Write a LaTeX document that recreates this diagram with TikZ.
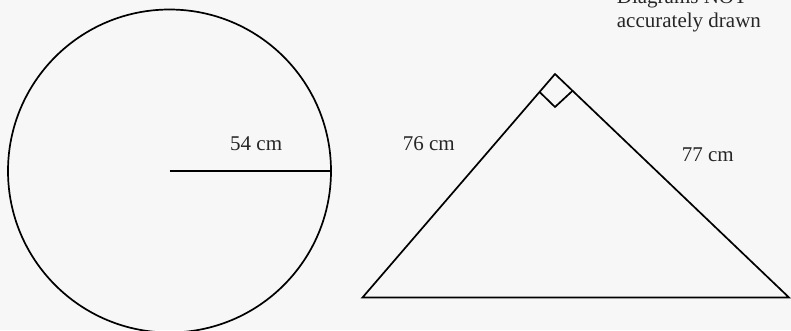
\documentclass[tikz,border=0pt]{standalone}
\usepackage{fontspec}
\setmainfont{Liberation Serif}
\begin{document}
\begin{tikzpicture}[x=1pt,y=-1pt,
  shape line/.style={draw=black,line width=1.7pt,line join=miter},
  lbl/.style={anchor=base west,inner sep=0pt,font=\fontsize{21}{25}\selectfont,text=black!85}]
\fill[black!3] (0,0) rectangle (791,330);
\useasboundingbox (0,0) rectangle (791,330);
% circle
\coordinate (O) at (169.5,171);
\draw[shape line] (O) circle[radius=161.5];
\coordinate (R) at (331,171);
\draw[shape line] (O) -- (R);
\node[lbl] (l54) at (230,150) {54 cm};
% triangle
\coordinate (A) at (555,74);
\coordinate (B) at (362.5,297.5);
\coordinate (C) at (789,297.5);
\draw[shape line] (A) -- (B) -- (C) -- cycle;
\coordinate (S1) at (539.3,91.7);
\coordinate (S2) at (555,107);
\coordinate (S3) at (572.3,91);
\draw[shape line] (S1) -- (S2) -- (S3);
\node[lbl] (l76) at (402.7,150) {76 cm};
\node[lbl] (l77) at (681.7,161.7) {77 cm};
% note
\node[lbl] (n1) at (616.7,3) {Diagrams NOT};
\node[lbl] (n2) at (616.7,27.3) {accurately drawn};
\end{tikzpicture}
\end{document}
